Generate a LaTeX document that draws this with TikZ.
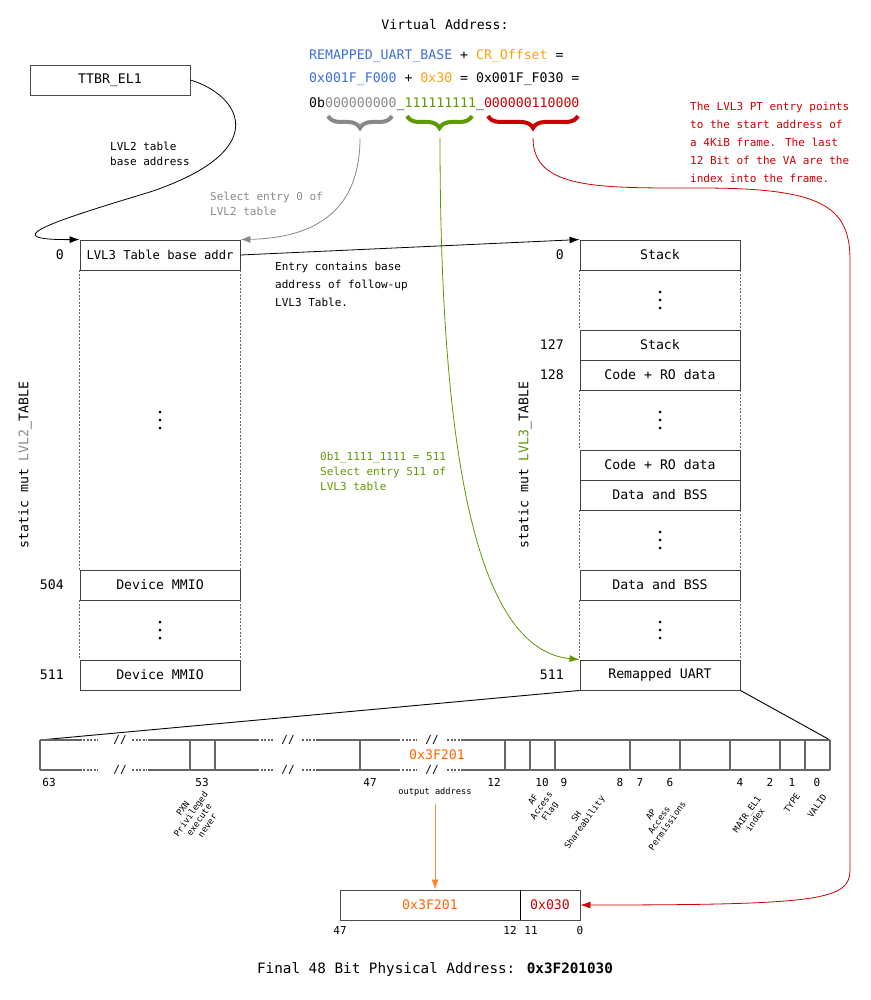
\documentclass[tikz,border=0pt]{standalone}
\usepackage{fontspec}
\setmainfont{DejaVu Sans Mono}
\usetikzlibrary{arrows.meta,decorations.pathreplacing}
\definecolor{vablue}{HTML}{3C6ED8}
\definecolor{vaorange}{HTML}{FFA010}
\definecolor{vagreen}{HTML}{5F9900}
\definecolor{vared}{HTML}{CC0000}
\definecolor{outorange}{HTML}{FF6600}
\definecolor{selgray}{HTML}{888888}
\newcommand{\fs}[2]{\fontsize{#1}{#2}\selectfont}
\tikzset{
  entry/.style={draw=black!75, line width=0.9pt, minimum width=160pt, minimum height=30pt, inner sep=0pt, font=\fs{13.2}{16}},
  idx/.style={anchor=east, inner sep=0pt, font=\fs{13.2}{16}},
  note/.style={anchor=north west, align=left, inner sep=0pt},
  bitnum/.style={inner sep=0pt, font=\fs{11}{13}},
  fieldlbl/.style={rotate=55, align=center, inner sep=0pt, font=\fs{8.7}{10}},
  conn/.style={line width=0.8pt, -{Latex[length=10pt,width=7pt]}},
  vbrace/.style={decorate, decoration={brace, mirror, amplitude=12pt}, line width=4pt},
  desc/.style={black!60, line width=1.5pt},
  gap/.style={black!60, line width=1.2pt, dash pattern=on 2pt off 1.5pt},
}
\begin{document}
\begin{tikzpicture}
\useasboundingbox (0pt,0pt) rectangle (870pt,-1000pt);
\node[font=\fs{13.2}{16}] (vatitle) at (445pt,-25pt) {Virtual Address:};
\node[anchor=base west, inner sep=0pt, font=\fs{13.2}{16}] (valine1) at (309pt,-60pt) {\textcolor{vablue}{REMAPPED\_UART\_BASE} + \textcolor{vaorange}{CR\_Offset} =};
\node[anchor=base west, inner sep=0pt, font=\fs{13.2}{16}] (valine2) at (309pt,-83pt) {\textcolor{vablue}{0x001F\_F000} + \textcolor{vaorange}{0x30} = 0x001F\_F030 =};
\node[anchor=base west, inner sep=0pt, font=\fs{13.2}{16}] (valine3) at (309pt,-108pt) {0b\textcolor{selgray}{000000000}\_\textcolor{vagreen}{111111111}\_\textcolor{vared}{000000110000}};
\draw[vbrace, selgray] (328pt,-116pt) -- (392pt,-116pt);
\draw[vbrace, vagreen] (407pt,-116pt) -- (472pt,-116pt);
\draw[vbrace, vared] (488pt,-116pt) -- (578pt,-116pt);
\coordinate (gtip) at (360pt,-138pt);
\coordinate (ntip) at (440pt,-138pt);
\coordinate (rtip) at (533pt,-138pt);

\node[draw=black!70, line width=0.9pt, minimum width=160pt, minimum height=30pt, inner sep=0pt, font=\fs{13.2}{16}] (ttbr) at (110pt,-80pt) {TTBR\_EL1};

\node[entry, font=\fs{12.2}{16}] (ltwo0) at (160pt,-255pt) {LVL3 Table base addr};
\node[entry] (ltwo504) at (160pt,-585pt) {Device MMIO};
\node[entry] (ltwo511) at (160pt,-675pt) {Device MMIO};
\node[idx] (ltwoi0) at (64pt,-255pt) {0};
\node[idx] (ltwoi504) at (64pt,-585pt) {504};
\node[idx] (ltwoi511) at (64pt,-675pt) {511};
\draw[gap] (ltwo0.south west) -- (ltwo504.north west);
\draw[gap] (ltwo0.south east) -- (ltwo504.north east);
\draw[gap] (ltwo504.south west) -- (ltwo511.north west);
\draw[gap] (ltwo504.south east) -- (ltwo511.north east);
\node[rotate=90, font=\fs{13.2}{16}] (ltwoname) at (25pt,-465pt) {static mut \textcolor{selgray}{LVL2}\_TABLE};

\node[entry] (lthree0) at (660pt,-255pt) {Stack};
\node[entry] (lthree127) at (660pt,-345pt) {Stack};
\node[entry] (lthree128) at (660pt,-375pt) {Code + RO data};
\node[entry] (lthreeca) at (660pt,-465pt) {Code + RO data};
\node[entry] (lthreeda) at (660pt,-495pt) {Data and BSS};
\node[entry] (lthreedb) at (660pt,-585pt) {Data and BSS};
\node[entry] (lthree511) at (660pt,-675pt) {Remapped UART};
\node[idx] (lthreei0) at (564pt,-255pt) {0};
\node[idx] (lthreei127) at (564pt,-345pt) {127};
\node[idx] (lthreei128) at (564pt,-375pt) {128};
\node[idx] (lthreei511) at (564pt,-675pt) {511};
\draw[gap] (lthree0.south west) -- (lthree127.north west);
\draw[gap] (lthree0.south east) -- (lthree127.north east);
\draw[gap] (lthree128.south west) -- (lthreeca.north west);
\draw[gap] (lthree128.south east) -- (lthreeca.north east);
\draw[gap] (lthreeda.south west) -- (lthreedb.north west);
\draw[gap] (lthreeda.south east) -- (lthreedb.north east);
\draw[gap] (lthreedb.south west) -- (lthree511.north west);
\draw[gap] (lthreedb.south east) -- (lthree511.north east);
\node[rotate=90, font=\fs{13.2}{16}] (lthreename) at (525pt,-465pt) {static mut \textcolor{vagreen}{LVL3}\_TABLE};
\foreach \x/\y in {160/420,160/630,660/300,660/420,660/540,660/630}
  \foreach \d in {-8,0,8} \fill (\x pt,-\y pt+\d pt) circle (1.5pt);

\draw[conn] (ttbr.east) .. controls (240pt,-95pt) and (275pt,-150pt) .. (150pt,-192pt) .. controls (40pt,-225pt) and (0pt,-240pt) .. (ltwo0.north west);
\node[note, font=\fs{11}{15}] (ttbrlbl) at (110pt,-142pt) {LVL2 table\\base address};
\draw[conn, selgray] (gtip) .. controls (360pt,-215pt) and (310pt,-238pt) .. (ltwo0.north east);
\node[note, font=\fs{11}{15}, text=selgray] (gtiplbl) at (210pt,-192pt) {Select entry 0 of\\LVL2 table};
\draw[conn] (ltwo0.east) -- (lthree0.north west);
\node[note, font=\fs{11}{18}] (entrylbl) at (275pt,-262pt) {Entry contains base\\address of follow-up\\LVL3 Table.};
\draw[conn, vagreen] (ntip) .. controls (440pt,-470pt) and (480pt,-650pt) .. (lthree511.north west);
\node[note, font=\fs{11}{15}, text=vagreen] (ntiplbl) at (320pt,-452pt) {0b1\_1111\_1111 = 511\\Select entry 511 of\\LVL3 table};
\node[note, font=\fs{11}{18}, text=vared] (rtiplbl) at (690pt,-102pt) {The LVL3 PT entry points\\to the start address of\\a 4KiB frame. The last\\12 Bit of the VA are the\\index into the frame.};

\coordinate (dtl) at (40pt,-740pt);
\coordinate (dtr) at (830pt,-740pt);
\draw[black, line width=0.9pt] (lthree511.south west) -- (dtl);
\draw[black, line width=0.9pt] (lthree511.south east) -- (dtr);
\foreach \y/\r in {-740/t,-770/b} {
  \foreach \a/\b in {40/82,148/257,317/400,462/830} \draw[desc] (\a pt,\y pt) -- (\b pt,\y pt);
  \foreach \a/\b in {83/98,132/147,257/273,302/317,402/417,447/462} \draw[gap] (\a pt,\y pt) -- (\b pt,\y pt);
  \foreach \x in {120,288,432} \node[font=\fs{11}{13}, fill=white, inner sep=0pt] (cut\r\x) at (\x pt,\y pt) {//};
}
\foreach \x in {40,190,215,360,505,530,555,630,680,730,780,805,830} \draw[desc] (\x pt,-740pt) -- (\x pt,-770pt);
\node[font=\fs{13.2}{16}, text=outorange] (outaddr) at (437pt,-755pt) {0x3F201};
\foreach \x/\n in {49/63,202/53,370/47,494/12,542/10,564/9,620/8,640/7,670/6,740/4,770/2,792/1,817/0} \node[bitnum] (bit\n) at (\x pt,-782pt) {\n};
\node[font=\fs{8.7}{10}, inner sep=0pt] (outlbl) at (435pt,-792pt) {output address};
\node[fieldlbl] (fpxn) at (195pt,-817pt) {PXN\\Privileged\\execute\\never};
\node[fieldlbl] (faf) at (542pt,-806pt) {AF\\Access\\Flag};
\node[fieldlbl] (fsh) at (581pt,-820pt) {SH\\Shareability};
\node[fieldlbl] (fap) at (659pt,-820pt) {AP\\Access\\Permissions};
\node[fieldlbl] (fmair) at (751pt,-817pt) {MAIR\_EL1\\index};
\node[fieldlbl] (ftype) at (792pt,-803pt) {TYPE};
\node[fieldlbl] (fvalid) at (817pt,-806pt) {VALID};

\node[draw=black!70, line width=0.9pt, minimum width=180pt, minimum height=30pt, inner sep=0pt, font=\fs{13.2}{16}, text=outorange] (phbase) at (430pt,-905pt) {0x3F201};
\node[draw=black!70, line width=0.9pt, minimum width=60pt, minimum height=30pt, inner sep=0pt, font=\fs{13.2}{16}, text=vared] (phoff) at (550pt,-905pt) {0x030};
\draw[black, line width=1pt] (phbase.north east) -- (phbase.south east);
\draw[conn, outorange!80] (outlbl.south) ++(0pt,-8pt) -- (outlbl.south |- phbase.north);
\draw[conn, vared] (rtip) .. controls (533pt,-190pt) and (600pt,-188pt) .. (700pt,-188pt) .. controls (820pt,-188pt) and (850pt,-205pt) .. (850pt,-260pt) -- (850pt,-870pt) .. controls (850pt,-900pt) and (820pt,-905pt) .. (phoff.east);
\node[bitnum] (ph47) at (340pt,-930pt) {47};
\node[bitnum] (ph12) at (510pt,-930pt) {12};
\node[bitnum] (ph11) at (531pt,-930pt) {11};
\node[bitnum] (ph0) at (580pt,-930pt) {0};
\node[font=\fs{14.3}{17}] (final) at (435pt,-970pt) {Final 48 Bit Physical Address: \textbf{0x3F201030}};
\end{tikzpicture}
\end{document}
